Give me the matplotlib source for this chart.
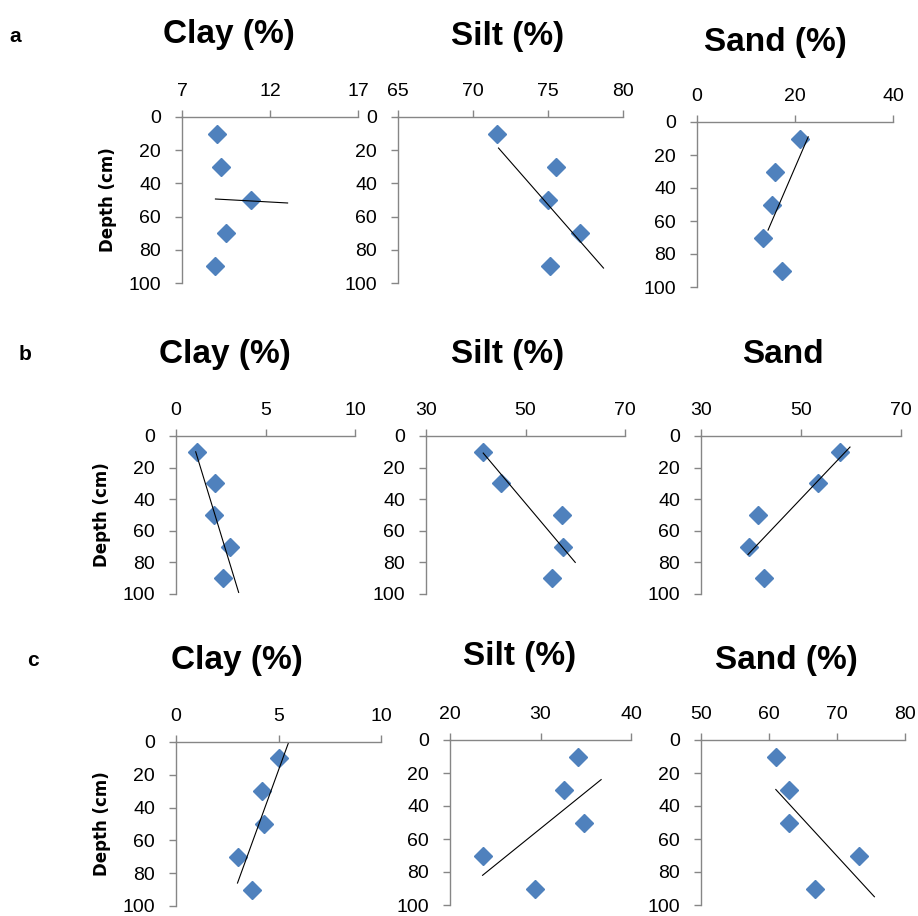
import matplotlib
matplotlib.use("Agg")
import matplotlib.pyplot as plt

plt.rcParams['font.family'] = ['Liberation Sans', 'DejaVu Sans']

depth = [10, 30, 50, 70, 90]

clay_a = [9.0, 9.2, 10.9, 9.5, 8.9]
silt_a = [71.6, 75.5, 75.0, 77.1, 75.1]
sand_a = [21.0, 15.9, 15.3, 13.5, 17.3]
clay_b = [1.2, 2.2, 2.1, 3.0, 2.6]
silt_b = [41.5, 45.1, 57.3, 57.6, 55.3]
sand_b = [57.8, 53.4, 41.4, 39.6, 42.5]
clay_c = [5.0, 4.2, 4.3, 3.0, 3.7]
silt_c = [34.1, 32.6, 34.8, 23.6, 29.4]
sand_c = [61.0, 62.9, 62.9, 73.2, 66.8]

# trend line end points (value, depth)
trend_x = [[8.9, 13.0], [71.7, 78.7], [22.7, 14.5],
           [1.1, 3.5], [41.5, 60.0], [59.8, 39.4],
           [5.5, 3.0], [36.7, 23.6], [61.0, 75.5]]
trend_d = [[49.4, 51.8], [18.7, 91], [9, 65.5],
           [10, 99], [10.8, 80], [7, 75],
           [0, 86], [24, 82], [30, 95]]

x_ticks = [[7, 12, 17], [65, 70, 75, 80], [0, 20, 40],
           [0, 5, 10], [30, 50, 70], [30, 50, 70],
           [0, 5, 10], [20, 30, 40], [50, 60, 70, 80]]
titles = ["Clay (%)", "Silt (%)", "Sand (%)",
          "Clay (%)", "Silt (%)", "Sand",
          "Clay (%)", "Silt (%)", "Sand (%)"]
series = [clay_a, silt_a, sand_a, clay_b, silt_b, sand_b, clay_c, silt_c, sand_c]
row_labels = ["a", "b", "c"]

W, H = 918, 916
# axes boxes in pixels: left, right, top, bottom
boxes = [(182, 358, 117, 283), (398, 623, 117, 283), (697, 893, 122, 287),
         (176, 355, 436, 594), (426, 625, 436, 594), (701, 901, 436, 594),
         (176, 381, 742, 906), (450, 631, 740, 905), (701, 905, 740, 905)]
title_pos = [(229, 35), (508, 37), (775, 42),
             (225, 355), (508, 355), (783, 355),
             (237, 660), (520, 657), (786, 660)]
label_pos = [(15, 37), (25, 355), (33, 660)]

fig = plt.figure(figsize=(W / 100, H / 100), dpi=100)
gray = '#868686'

for i, vals in enumerate(series):
    l, r, t, b = boxes[i]
    ax = fig.add_axes([l / W, 1 - b / H, (r - l) / W, (b - t) / H])
    ax.plot(vals, depth, linestyle='none', marker='D', markersize=9,
            color='#4F81BD')
    ax.plot(trend_x[i], trend_d[i], color='black', linewidth=0.8)
    ax.set_xlim(x_ticks[i][0], x_ticks[i][-1])
    ax.set_ylim(100, 0)
    ax.set_xticks(x_ticks[i])
    ax.set_yticks(range(0, 101, 20))
    ax.xaxis.tick_top()
    for s in ['right', 'bottom']:
        ax.spines[s].set_visible(False)
    for s in ['left', 'top']:
        ax.spines[s].set_color(gray)
        ax.spines[s].set_linewidth(1)
    ax.tick_params(axis='both', colors=gray, labelcolor='black',
                   labelsize=14, length=5, width=1)
    ax.tick_params(axis='x', pad=7.5)
    ax.tick_params(axis='y', pad=10)
    ax.patch.set_alpha(0)
    tx, ty = title_pos[i]
    fig.text(tx / W, 1 - ty / H, titles[i], ha='center', va='center',
             fontsize=24, fontweight='bold')
    if i % 3 == 0:
        ax.set_ylabel("Depth (cm)", fontsize=12, fontweight='bold',
                      family=['DejaVu Sans'], labelpad=8)

for k, lab in enumerate(row_labels):
    x, y = label_pos[k]
    fig.text(x / W, 1 - y / H, lab, ha='center', va='center',
             fontsize=15, fontweight='bold')

fig.savefig("out.png", dpi=100)
